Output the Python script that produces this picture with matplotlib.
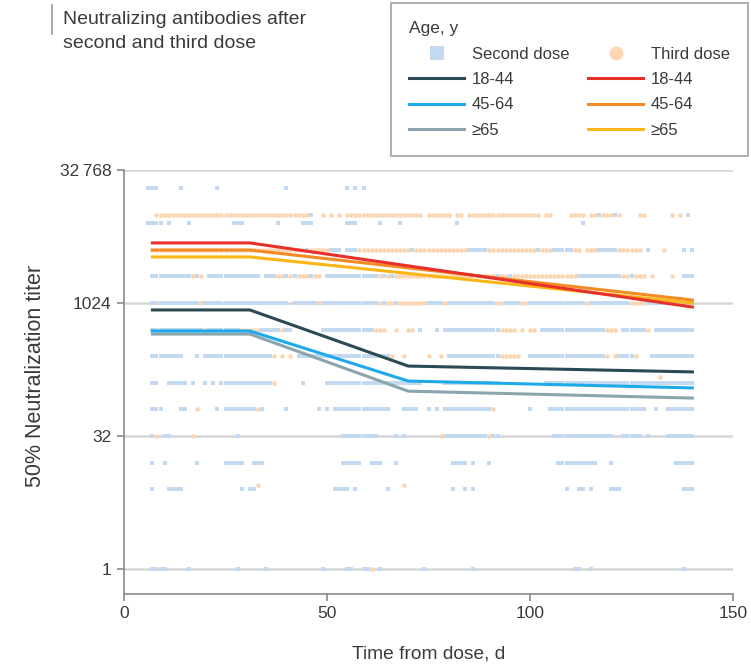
import matplotlib
matplotlib.use("Agg")
import matplotlib.pyplot as plt
from matplotlib.lines import Line2D
from matplotlib.legend_handler import HandlerLine2D

plt.rcParams['font.family'] = ['Liberation Sans', 'DejaVu Sans']

# ---------------- data ----------------
# observed days for each titer level, as runs (a, b) inclusive or single days
second_dose_points = {
    20480: [(6, 8), 14, 23, 40, 55, 57, 59],
    10240: [46, 117, 121, 139],
    8192: [(6, 9), 11, 16, (27, 29), 38, (44, 46), (55, 57), 63, 68, 82, 113],
    4096: [45, (51, 53), (55, 57), 71, (85, 89), 102, (106, 110), (117, 121), 129, 138, 140],
    2048: [(7, 16), 18, (21, 33), (35, 37), 40, 42, 46, (50, 62), 64, 66, 86, 88, 92, 95,
           (112, 122), 125, (138, 140)],
    1024: [(7, 18), (20, 40), (42, 47), (49, 62), 64, 67, (75, 78), (80, 91), (94, 97),
           (100, 113), (115, 124), (129, 140)],
    512: [(7, 19), (21, 28), (34, 38), (40, 41), (49, 61), 73, 77, (79, 92), (103, 118),
          (123, 128), (131, 140)],
    256: [(7, 14), 18, (20, 36), (43, 65), (80, 92), (100, 118), (122, 125), (130, 140)],
    128: [(7, 8), (11, 15), 17, 20, 22, (24, 36), 44, (50, 73), (79, 92), (104, 140)],
    64: [(7, 9), (14, 15), 23, (25, 32), 34, 40, 48, 50, (52, 65), (69, 72), 75, 77, (79, 90),
         100, (105, 128), 131, (134, 140)],
    32: [7, (10, 11), 28, (54, 62), 67, 69, (79, 89), (91, 92), (106, 120), (123, 127), 129,
         (134, 140)],
    16: [7, 10, 18, (25, 29), (32, 34), (54, 58), (61, 63), 67, (81, 84), 86, 90, (107, 116),
         120, (136, 140)],
    8: [7, (11, 14), 29, (31, 32), (52, 55), 57, 65, 81, 84, 86, 109, (112, 113), 115,
        (120, 122), (138, 140)],
    1: [(7, 10), 16, 28, 35, 49, (55, 56), (59, 60), 63, 74, 86, (111, 112), 115, 138],
}

third_dose_points = {
    10240: [(8, 13), (14, 45), 49, 51, 53, (55, 73), (75, 80), (82, 83), (85, 102), (104, 105),
            (110, 113), (115, 116), (118, 120), (122, 122), (127, 128), 135, 137],
    4096: [(7, 44), (46, 50), (58, 70), (72, 84), (90, 101), (103, 105), 111, 112, (114, 116),
           (122, 127), 133],
    2048: [17, 19, (38, 39), 41, (43, 45), (47, 48), 63, 65, (67, 85), 87, (89, 91), (93, 94),
           (96, 111), (123, 124), (126, 128), 130, 135],
    1024: [19, 48, 63, 65, 66, (68, 74), 79, 92, 93, 98, 99, 114, (125, 128)],
    512: [20, (29, 33), 39, (62, 64), 67, 70, 71, (93, 96), 98, 100, 101, (119, 121), 129],
    256: [37, 39, 41, 66, 69, 75, 78, (93, 97), 119, 121, 126],
    150: [132],
    128: [37],
    64: [18, 33, 91],
    32: [8, 17, 78, 90],
    9: [33, 69],
    1: [61],
}

second_line_days = [7, 31, 70, 140]
second_18_44 = [854, 854, 198, 170]
second_45_64 = [494, 494, 134, 112]
second_65 = [456, 456, 103, 86]

third_line_days = [7, 31, 140]
third_18_44 = [4900, 4900, 922]
third_45_64 = [4070, 4070, 1107]
third_65 = [3400, 3400, 1024]

y_ticks = [1, 32, 1024, 32768]
y_ticklabels = ['1', '32', '1024', '32\u2009768']
x_ticks = [0, 50, 100, 150]


def expand(points):
    xs, ys = [], []
    for titer, runs in points.items():
        for r in runs:
            if isinstance(r, tuple):
                days = list(range(r[0], r[1] + 1))
            else:
                days = [r]
            xs += days
            ys += [titer] * len(days)
    return xs, ys


class RightMarkerHandler(HandlerLine2D):
    def get_xdata(self, legend, xdescent, ydescent, width, height, fontsize):
        xdata, _ = super().get_xdata(legend, xdescent, ydescent, width, height, fontsize)
        return xdata, [-xdescent + width - 5.0]


# ---------------- figure ----------------
W, H = 751, 666
fig = plt.figure(figsize=(W / 100, H / 100), dpi=100)
ax = fig.add_axes([124 / W, (H - 594) / H, (733 - 124) / W, (594 - 170) / H])

TXT = '#3a3a3a'
BLUE_PT = '#c3d9ef'
ORANGE_PT = '#fcd6b2'

ax.set_yscale('log', base=2)
ax.set_xlim(0, 150)
ax.set_ylim(2 ** -0.94, 32768)

for t in y_ticks:
    ax.axhline(t, color='#d6d6d6', lw=1.8, zorder=0)

ox, oy = expand(third_dose_points)
ax.plot(ox, oy, 'o', color=ORANGE_PT, ms=3.3, mew=0, zorder=2)
bx, by = expand(second_dose_points)
ax.plot(bx, by, 's', color=BLUE_PT, ms=3.3, mew=0, zorder=2)

lw = 2.2
ax.plot(second_line_days, second_65, color='#8aa5ae', lw=lw, zorder=4)
ax.plot(second_line_days, second_45_64, color='#1eaaea', lw=lw, zorder=5)
ax.plot(second_line_days, second_18_44, color='#2c4a54', lw=lw, zorder=5)
ax.plot(third_line_days, third_65, color='#fbb615', lw=lw, zorder=4)
ax.plot(third_line_days, third_45_64, color='#f38a22', lw=lw, zorder=5)
ax.plot(third_line_days, third_18_44, color='#e8302a', lw=lw, zorder=6)

ax.set_yticks(y_ticks)
ax.set_yticklabels(y_ticklabels)
ax.yaxis.set_minor_locator(matplotlib.ticker.NullLocator())
ax.set_xticks(x_ticks)

for s in ['top', 'right']:
    ax.spines[s].set_visible(False)
for s in ['left', 'bottom']:
    ax.spines[s].set_color('#8a8a8a')
    ax.spines[s].set_linewidth(1.2)
ax.tick_params(axis='both', colors='#8a8a8a', length=5, width=1.2, labelsize=12.5,
               labelcolor=TXT, pad=4)

ax.set_xlabel('Time from dose, d', fontsize=13.8, color=TXT, labelpad=17)
ax.set_ylabel('50% Neutralization titer', fontsize=15.5, color=TXT)
ax.yaxis.set_label_coords(-0.128, 0.515)

# title
fig.text(63 / W, 1 - 11 / H, 'Neutralizing antibodies after\nsecond and third dose',
         ha='left', va='top', fontsize=14, color=TXT, linespacing=1.5)
fig.add_artist(Line2D([52 / W, 52 / W], [1 - 5 / H, 1 - 34 / H], color='#9a9a9a', lw=1.2))

# legend
sq = Line2D([], [], ls='none', marker='s', color=BLUE_PT, ms=10, mew=0)
ci = Line2D([], [], ls='none', marker='o', color=ORANGE_PT, ms=10, mew=0)
handles = [
    sq,
    Line2D([], [], color='#2c4a54', lw=lw),
    Line2D([], [], color='#1eaaea', lw=lw),
    Line2D([], [], color='#8aa5ae', lw=lw),
    ci,
    Line2D([], [], color='#e8302a', lw=lw),
    Line2D([], [], color='#f38a22', lw=lw),
    Line2D([], [], color='#fbb615', lw=lw),
]
labels = ['Second dose', '18-44', '45-64', '\u226565',
          'Third dose', '18-44', '45-64', '\u226565']
leg = fig.legend(handles, labels, ncol=2, title='Age, y', alignment='left',
                 loc='upper right', bbox_to_anchor=(748 / W, 1 - 3 / H), borderaxespad=0,
                 fontsize=12, title_fontsize=12.5, frameon=True, fancybox=False,
                 handlelength=3.3, handletextpad=0.45, columnspacing=1.15,
                 labelspacing=0.62, borderpad=1.1, numpoints=1,
                 handler_map={sq: RightMarkerHandler(), ci: RightMarkerHandler()})
leg.get_frame().set_edgecolor('#9a9a9a')
leg.get_frame().set_linewidth(1.4)
for t in leg.get_texts():
    t.set_color(TXT)
leg.get_title().set_color(TXT)

fig.savefig('out.png', dpi=100)
